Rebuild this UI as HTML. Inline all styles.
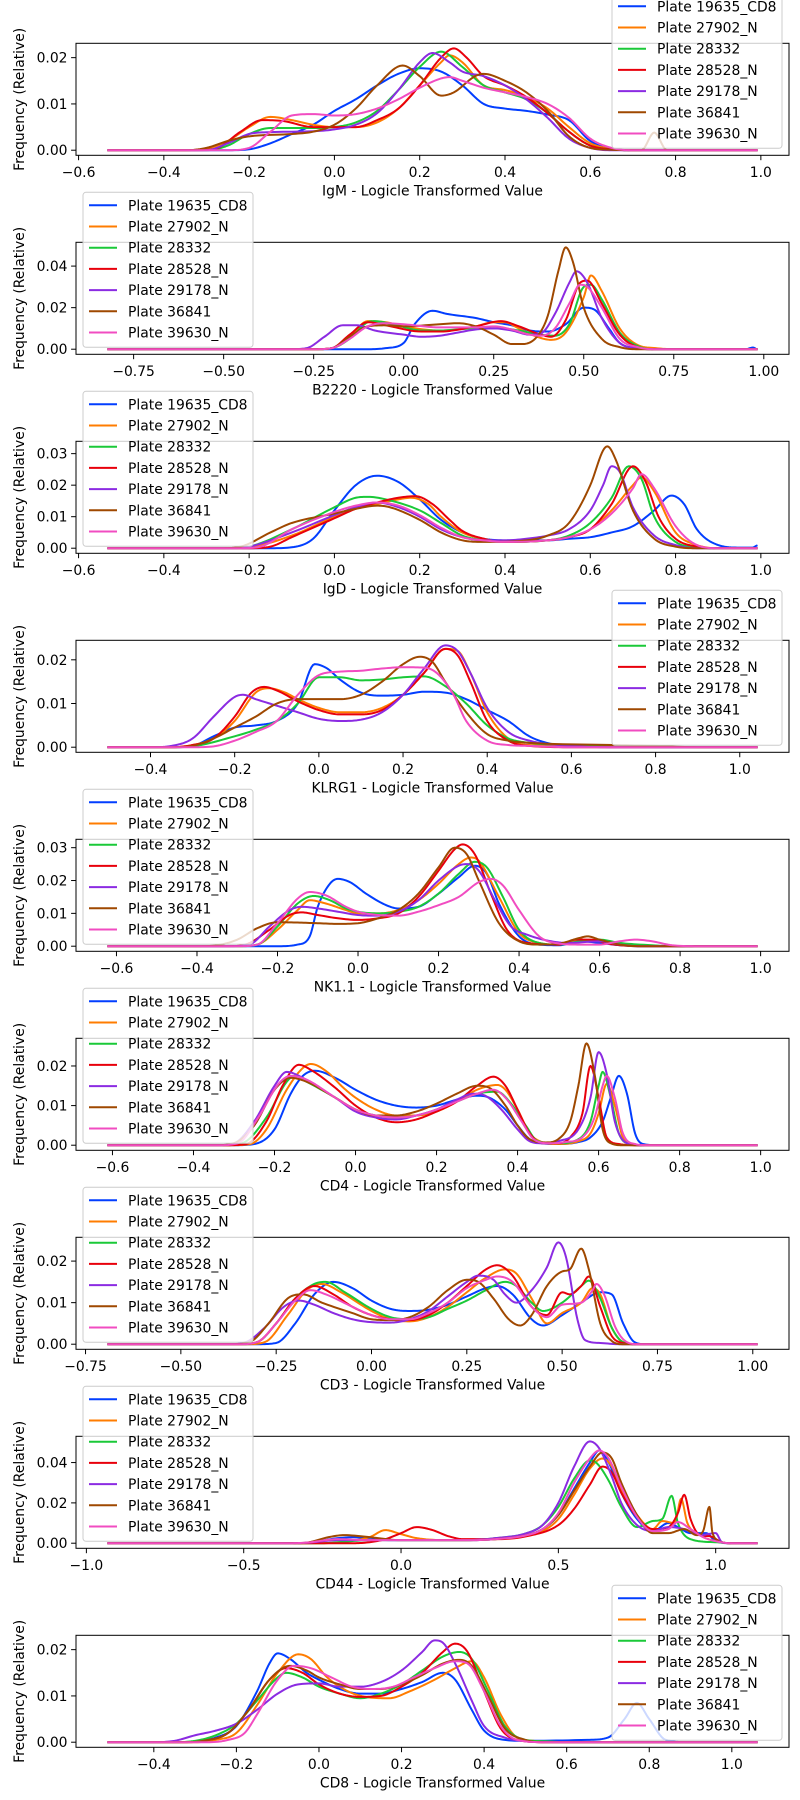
<!DOCTYPE html>
<html><head><meta charset="utf-8">
<style>
html,body{margin:0;padding:0;background:#fff;}
svg{display:block;font-family:"DejaVu Sans","Liberation Sans",sans-serif;}
</style></head>
<body>
<svg id="chart" width="800" height="1800" viewBox="0 0 800 1800" xmlns="http://www.w3.org/2000/svg">
<rect x="0" y="0" width="800" height="1800" fill="#fff"/>
</svg>
<script>
// ---- data (y values in thousandths of relative frequency) ----
const plateNames = ['Plate 19635_CD8','Plate 27902_N','Plate 28332','Plate 28528_N','Plate 29178_N','Plate 36841','Plate 39630_N'];
const markerNames = ['IgM','B2220','IgD','KLRG1','NK1.1','CD4','CD3','CD44','CD8'];
const dataRanges = [[-0.53,0.99],[-0.82,0.98],[-0.53,0.99],[-0.5,1.04],[-0.62,0.99],[-0.61,0.99],[-0.69,1.01],[-0.93,1.13],[-0.51,1.06]];
const xTickSets = [
 ['-0.6','-0.4','-0.2','0.0','0.2','0.4','0.6','0.8','1.0'],
 ['-0.75','-0.50','-0.25','0.00','0.25','0.50','0.75','1.00'],
 ['-0.6','-0.4','-0.2','0.0','0.2','0.4','0.6','0.8','1.0'],
 ['-0.4','-0.2','0.0','0.2','0.4','0.6','0.8','1.0'],
 ['-0.6','-0.4','-0.2','0.0','0.2','0.4','0.6','0.8','1.0'],
 ['-0.6','-0.4','-0.2','0.0','0.2','0.4','0.6','0.8','1.0'],
 ['-0.75','-0.50','-0.25','0.00','0.25','0.50','0.75','1.00'],
 ['-1.0','-0.5','0.0','0.5','1.0'],
 ['-0.4','-0.2','0.0','0.2','0.4','0.6','0.8','1.0']
];
const yTickSets = [
 ['0.00','0.01','0.02'],
 ['0.00','0.02','0.04'],
 ['0.00','0.01','0.02','0.03'],
 ['0.00','0.01','0.02'],
 ['0.00','0.01','0.02','0.03'],
 ['0.00','0.01','0.02'],
 ['0.00','0.01','0.02'],
 ['0.00','0.02','0.04'],
 ['0.00','0.01','0.02']
];
const igmSeries = [
 [[-0.25,0],[-0.2,0.2],[-0.15,1.5],[-0.1,3.5],[-0.05,5.5],[0,8.5],[0.05,11],[0.1,14],[0.15,16.5],[0.2,17.7],[0.25,17],[0.3,14],[0.35,10],[0.4,9],[0.45,8.5],[0.5,7.7],[0.55,6.5],[0.6,2],[0.65,0.3],[0.7,0]],
 [[-0.35,0],[-0.3,0.3],[-0.25,2],[-0.2,5],[-0.15,7.2],[-0.1,6.5],[-0.05,5.5],[0,5],[0.05,5],[0.1,6],[0.15,9],[0.2,14],[0.25,19],[0.27,20.5],[0.3,19],[0.35,14],[0.4,13],[0.45,11.5],[0.5,9],[0.55,5],[0.6,1.5],[0.65,0.3],[0.7,0]],
 [[-0.3,0],[-0.25,1],[-0.2,3.5],[-0.15,4.8],[-0.1,4.8],[-0.05,4.8],[0,5],[0.05,6],[0.1,8.5],[0.15,13],[0.2,18],[0.25,21.3],[0.3,18],[0.35,14],[0.4,12.5],[0.45,11],[0.5,8],[0.55,4],[0.6,1],[0.65,0.2],[0.7,0]],
 [[-0.33,0],[-0.28,0.3],[-0.22,4],[-0.17,6.5],[-0.12,6.3],[-0.05,5],[0.05,5],[0.1,6.5],[0.15,9],[0.2,14],[0.25,20],[0.28,22],[0.31,20],[0.35,16],[0.4,14],[0.45,11.5],[0.5,8],[0.55,4],[0.6,1],[0.65,0.2],[0.7,0]],
 [[-0.3,0],[-0.25,1.5],[-0.2,3.5],[-0.15,3.9],[-0.05,4.1],[0,4.5],[0.05,5.5],[0.1,8],[0.15,13],[0.2,19],[0.23,21],[0.27,19],[0.3,17],[0.35,16],[0.4,14],[0.45,11],[0.5,7],[0.55,2.5],[0.6,0.5],[0.65,0]],
 [[-0.35,0],[-0.3,0.5],[-0.25,2],[-0.2,3],[-0.1,3.5],[-0.05,4],[0,5.5],[0.05,9],[0.1,14],[0.16,18.3],[0.2,16],[0.25,11.8],[0.28,12.5],[0.33,16],[0.35,16.5],[0.4,15],[0.45,12.5],[0.5,8.5],[0.55,3],[0.6,0.5],[0.65,0.1],[0.72,0],[0.75,3.8],[0.78,0]],
 [[-0.25,0],[-0.2,0.5],[-0.15,4],[-0.1,7.5],[-0.05,7.8],[0,7.5],[0.05,7.8],[0.1,9],[0.15,11],[0.2,13.5],[0.25,15.5],[0.27,15.8],[0.3,15],[0.35,13.5],[0.4,12.5],[0.45,11.5],[0.5,10],[0.55,7],[0.6,2.5],[0.65,0.5],[0.7,0]]
];
const b2220Series = [
 [[-0.1,0],[-0.05,0.5],[0,3],[0.03,12],[0.08,18.5],[0.12,17],[0.2,15],[0.25,13],[0.3,11.5],[0.35,9],[0.4,8.5],[0.45,12],[0.5,20],[0.53,19],[0.57,10],[0.6,3],[0.65,0.5],[0.7,0],[0.95,0],[0.97,0.8],[0.98,0]],
 [[-0.25,0],[-0.2,0.5],[-0.15,6],[-0.1,13.5],[-0.05,13],[0,11],[0.1,9],[0.15,9.5],[0.2,11],[0.25,13],[0.28,13],[0.32,10],[0.37,6],[0.41,4.5],[0.45,8],[0.5,25],[0.52,35.5],[0.55,28],[0.6,10],[0.65,2],[0.7,0.5],[0.75,0]],
 [[-0.25,0],[-0.2,0.5],[-0.15,5],[-0.1,13],[-0.08,13.5],[-0.03,12],[0.05,9],[0.1,9],[0.2,10],[0.27,10],[0.32,9],[0.38,7],[0.42,6.5],[0.46,12],[0.5,30],[0.52,31],[0.55,24],[0.6,8],[0.65,1.5],[0.7,0]],
 [[-0.25,0],[-0.2,0.5],[-0.15,7],[-0.1,13],[-0.05,11.5],[0.05,8.5],[0.1,8.5],[0.2,11],[0.27,13.5],[0.32,11],[0.38,7],[0.41,6],[0.45,14],[0.49,32],[0.51,33],[0.55,22],[0.6,7],[0.65,1],[0.7,0]],
 [[-0.32,0],[-0.27,0.5],[-0.22,6],[-0.17,11.5],[-0.13,11.5],[-0.08,9],[0,7],[0.05,6],[0.1,6.5],[0.15,8],[0.2,9.5],[0.25,10],[0.3,9],[0.35,7],[0.38,7.5],[0.42,17],[0.46,32],[0.48,37.5],[0.51,32],[0.55,15],[0.6,3],[0.65,0.5],[0.7,0]],
 [[-0.25,0],[-0.2,0.5],[-0.15,6],[-0.1,11],[-0.05,11.5],[0,11],[0.1,12],[0.15,12.5],[0.2,11],[0.25,7],[0.3,2.5],[0.33,2.5],[0.37,6],[0.4,16],[0.43,38],[0.45,49],[0.47,42],[0.5,20],[0.55,5],[0.6,1],[0.65,0]],
 [[-0.25,0],[-0.2,0.5],[-0.15,5],[-0.1,11],[-0.05,12.5],[0,12],[0.1,10.5],[0.2,10.5],[0.25,11],[0.3,9.5],[0.35,7],[0.38,6.5],[0.42,10],[0.46,22],[0.49,31],[0.51,30],[0.55,20],[0.6,5],[0.65,1],[0.7,0]]
];
const igdSeries = [
 [[-0.15,0],[-0.1,0.3],[-0.05,3],[0,12],[0.05,20],[0.1,23],[0.15,21],[0.2,15.5],[0.25,9],[0.3,5],[0.35,3],[0.4,2.5],[0.5,2.5],[0.55,3],[0.6,3.5],[0.65,5],[0.7,7],[0.75,12],[0.79,16.7],[0.82,14],[0.85,6],[0.9,1],[0.95,0.2],[0.98,0.2],[0.99,0.8]],
 [[-0.25,0],[-0.2,0.3],[-0.1,4],[0,10],[0.05,12.5],[0.1,14],[0.15,15.5],[0.18,16],[0.22,14],[0.25,10],[0.3,5],[0.35,3],[0.4,2],[0.5,2.5],[0.55,3.5],[0.6,6],[0.65,12],[0.7,20],[0.72,22.5],[0.75,18],[0.8,5],[0.85,1],[0.9,0]],
 [[-0.25,0],[-0.2,0.5],[-0.1,6],[0,13],[0.05,16],[0.08,16.3],[0.12,15.5],[0.2,12],[0.25,8],[0.3,4],[0.35,2.5],[0.4,2],[0.5,2.5],[0.55,4],[0.6,8],[0.65,16],[0.69,26],[0.72,22],[0.75,10],[0.8,2],[0.85,0.3],[0.9,0]],
 [[-0.2,0],[-0.15,0.5],[-0.1,3.5],[0,9.5],[0.05,12.5],[0.1,14.5],[0.15,16],[0.19,16.5],[0.23,14],[0.27,9],[0.3,5.5],[0.35,3],[0.4,2],[0.5,2.5],[0.55,3.5],[0.6,6],[0.65,14],[0.7,26],[0.73,21],[0.76,10],[0.8,3],[0.85,0.5],[0.9,0]],
 [[-0.25,0],[-0.2,0.5],[-0.1,5],[0,10.5],[0.05,13],[0.1,14.5],[0.15,13],[0.2,10],[0.25,6],[0.3,3.5],[0.35,2.5],[0.4,2.5],[0.45,3],[0.5,4],[0.55,6],[0.6,12],[0.63,20],[0.65,26],[0.67,24],[0.7,13],[0.75,4],[0.8,1],[0.85,0]],
 [[-0.27,0],[-0.22,0.5],[-0.15,5],[-0.1,8],[0,11],[0.05,12.5],[0.1,13.5],[0.13,13],[0.2,9],[0.25,5],[0.3,2.5],[0.35,2],[0.45,2.5],[0.5,4],[0.55,8],[0.6,20],[0.63,31],[0.64,32.3],[0.66,28],[0.7,12],[0.75,3],[0.8,0.5],[0.85,0]],
 [[-0.23,0],[-0.18,0.3],[-0.1,6],[0,11.5],[0.05,13.5],[0.1,14.5],[0.15,13.5],[0.2,10.5],[0.25,6.5],[0.3,3.5],[0.35,2.5],[0.4,2],[0.5,2.5],[0.55,3.5],[0.6,6],[0.65,11],[0.7,19],[0.72,23.5],[0.75,19],[0.8,7],[0.85,1],[0.9,0]]
];
const klrg1Series = [
 [[-0.35,0],[-0.3,0.3],[-0.25,2.5],[-0.2,4.5],[-0.15,5],[-0.1,6],[-0.05,10],[-0.01,19],[0.02,18],[0.05,15.5],[0.1,12.5],[0.15,11.8],[0.2,12],[0.25,12.7],[0.3,12.5],[0.35,11],[0.4,8.5],[0.45,6],[0.5,2.5],[0.55,0.8],[0.6,0.3],[0.7,0]],
 [[-0.35,0],[-0.3,0.5],[-0.25,2],[-0.2,6],[-0.15,12.5],[-0.12,13.5],[-0.08,12.5],[-0.05,11],[0,9],[0.05,8],[0.1,8],[0.15,9],[0.2,12],[0.25,17],[0.3,22.5],[0.33,22],[0.36,17],[0.4,8],[0.45,2],[0.5,0.5],[0.6,0.3],[0.7,0]],
 [[-0.35,0],[-0.3,0.2],[-0.2,2.5],[-0.15,4],[-0.1,6],[-0.05,10],[0,16],[0.05,16],[0.1,15.3],[0.15,15.5],[0.2,16],[0.25,16.2],[0.3,14],[0.35,10],[0.4,5],[0.45,2],[0.5,1],[0.6,0.5],[0.7,0.3],[0.8,0]],
 [[-0.35,0],[-0.3,0.5],[-0.25,2],[-0.2,7],[-0.16,12.5],[-0.13,13.8],[-0.1,13],[-0.05,10.5],[0,8.5],[0.05,7.5],[0.1,7.5],[0.15,8.5],[0.2,12],[0.25,17],[0.3,22.5],[0.33,21],[0.36,15],[0.4,6],[0.45,1.5],[0.5,0.3],[0.6,0]],
 [[-0.4,0],[-0.35,0.3],[-0.3,2],[-0.25,7],[-0.2,11.5],[-0.18,12],[-0.15,11],[-0.1,9.5],[-0.05,8],[0,6.5],[0.05,6],[0.1,6.3],[0.15,8],[0.2,12],[0.25,18],[0.3,23.3],[0.33,22],[0.36,17],[0.4,9],[0.45,3.5],[0.5,1.5],[0.6,0.3],[0.7,0]],
 [[-0.35,0],[-0.3,0.3],[-0.25,2],[-0.2,4.5],[-0.15,7],[-0.1,10],[-0.05,11],[0.05,11],[0.1,12],[0.15,15],[0.2,19],[0.24,20.7],[0.27,19.5],[0.3,15],[0.35,8],[0.4,3],[0.45,1.5],[0.5,1],[0.7,0.5],[0.8,0.3],[0.9,0]],
 [[-0.3,0],[-0.25,0.2],[-0.2,1.5],[-0.15,3.5],[-0.1,6],[-0.05,12],[0,16.5],[0.05,17.3],[0.1,17.5],[0.15,18],[0.2,18.3],[0.25,18.2],[0.28,17],[0.32,12],[0.35,6],[0.4,1.5],[0.45,0.5],[0.5,0.3],[0.6,0]]
];
const nk11Series = [
 [[-0.2,0],[-0.15,0.5],[-0.12,3],[-0.1,12],[-0.07,19],[-0.05,20.5],[-0.02,19.5],[0.02,16],[0.07,12.5],[0.1,11.5],[0.15,12],[0.2,16],[0.25,21],[0.29,24.5],[0.32,22],[0.35,13],[0.4,3],[0.45,0.5],[0.5,0.3],[0.55,1.5],[0.6,1],[0.65,0.3],[0.7,0]],
 [[-0.3,0],[-0.25,0.5],[-0.2,5],[-0.15,11],[-0.12,14],[-0.08,13],[-0.03,11],[0,10],[0.05,10],[0.1,11],[0.15,14],[0.2,19],[0.25,25],[0.28,27],[0.3,26],[0.35,15],[0.4,4],[0.45,1],[0.5,0.5],[0.55,2],[0.6,1.5],[0.7,0.3],[0.8,0]],
 [[-0.3,0],[-0.25,0.5],[-0.2,6],[-0.15,13],[-0.11,15.3],[-0.07,14],[-0.03,11.5],[0,10.5],[0.05,10],[0.1,10.5],[0.15,12],[0.2,16],[0.25,22],[0.29,25.7],[0.32,24],[0.36,15],[0.4,5],[0.45,1],[0.5,0.5],[0.55,1.5],[0.6,2],[0.65,1],[0.7,0.5],[0.8,0]],
 [[-0.33,0],[-0.28,0.5],[-0.22,5],[-0.17,9.5],[-0.14,10.3],[-0.1,9.5],[-0.05,8.5],[0,8],[0.05,8.5],[0.1,10],[0.15,15],[0.2,23],[0.24,29.5],[0.26,31],[0.29,28],[0.33,16],[0.37,5],[0.42,1],[0.5,0.5],[0.54,2],[0.58,2],[0.62,0.8],[0.7,0]],
 [[-0.32,0],[-0.27,0.5],[-0.22,6],[-0.17,11],[-0.14,12],[-0.1,11.5],[-0.05,10.5],[0,9.5],[0.05,9.3],[0.1,10.5],[0.15,14],[0.2,20],[0.25,24.5],[0.27,25],[0.3,23],[0.34,14],[0.38,6],[0.42,3.5],[0.48,1.5],[0.52,1],[0.6,1.5],[0.65,0.5],[0.7,0]],
 [[-0.4,0],[-0.35,0.3],[-0.3,2],[-0.25,5.5],[-0.2,7.3],[-0.15,7.2],[-0.1,7],[-0.05,6.8],[0,7],[0.05,8.5],[0.1,11],[0.15,16],[0.2,24],[0.24,30],[0.27,28],[0.3,20],[0.35,7],[0.4,1.5],[0.45,0.5],[0.5,0.8],[0.55,2.5],[0.57,3],[0.6,2],[0.65,0.5],[0.7,0]],
 [[-0.3,0],[-0.25,0.5],[-0.2,7],[-0.15,14.5],[-0.12,16.5],[-0.08,15.5],[-0.03,12],[0,10.5],[0.05,9.5],[0.1,9.3],[0.15,10.5],[0.2,12.5],[0.25,15],[0.3,19.5],[0.33,20.5],[0.36,18.5],[0.4,11],[0.45,3],[0.5,0.8],[0.55,0.5],[0.6,0.5],[0.65,1.5],[0.69,2],[0.73,1.5],[0.78,0.3],[0.85,0]]
];
const cd4Series = [
 [[-0.3,0],[-0.25,0.3],[-0.2,4],[-0.16,13],[-0.13,17.5],[-0.1,18.8],[-0.05,17],[0,14],[0.05,11.5],[0.1,10],[0.15,9.5],[0.2,10],[0.25,11.5],[0.3,12.5],[0.33,12],[0.37,9],[0.4,5],[0.43,1.5],[0.46,0.5],[0.5,0.3],[0.55,0.8],[0.58,2],[0.61,6],[0.63,12],[0.65,17.5],[0.67,13],[0.69,3],[0.71,0.3],[0.75,0]],
 [[-0.31,0],[-0.26,0.3],[-0.22,4],[-0.17,14],[-0.13,19.5],[-0.11,20.5],[-0.07,18.5],[-0.03,14.5],[0,12],[0.05,9],[0.1,7.5],[0.15,7.5],[0.2,8.5],[0.25,11],[0.3,14],[0.35,15.2],[0.37,14],[0.4,9],[0.43,3],[0.46,0.8],[0.5,0.3],[0.55,1],[0.58,3],[0.6,8],[0.62,15.5],[0.64,10],[0.66,2],[0.69,0]],
 [[-0.33,0],[-0.28,0.5],[-0.22,7],[-0.17,16],[-0.15,17.5],[-0.12,16],[-0.05,12],[0,9],[0.05,7.5],[0.1,7],[0.15,7.5],[0.2,9],[0.25,11],[0.3,13],[0.35,13.5],[0.38,11],[0.42,5],[0.45,1],[0.5,0.5],[0.55,1.5],[0.58,6],[0.6,15],[0.61,18.5],[0.63,12],[0.65,3],[0.68,0.3],[0.72,0]],
 [[-0.32,0],[-0.27,0.3],[-0.22,6],[-0.18,15],[-0.14,20.3],[-0.11,19],[-0.05,14.5],[0,10],[0.05,7],[0.1,5.8],[0.15,6.5],[0.2,8.5],[0.25,11],[0.3,15],[0.34,17.3],[0.37,15],[0.4,9],[0.43,3],[0.46,0.5],[0.5,0.5],[0.53,2],[0.56,8],[0.58,20],[0.6,12],[0.62,2],[0.65,0.3],[0.7,0]],
 [[-0.35,0],[-0.3,0.5],[-0.25,6],[-0.2,15],[-0.17,18.5],[-0.13,17],[-0.05,12],[0,8.5],[0.05,7],[0.1,6.5],[0.15,7.5],[0.2,9],[0.25,11.5],[0.29,13],[0.32,12.5],[0.36,9],[0.4,4],[0.43,1],[0.46,0.5],[0.5,1],[0.55,4],[0.58,12],[0.6,23.5],[0.62,18],[0.64,6],[0.67,0.5],[0.7,0]],
 [[-0.35,0],[-0.3,0.5],[-0.25,5],[-0.2,14],[-0.16,17],[-0.12,16],[-0.05,12],[0,9],[0.05,7.5],[0.1,7.5],[0.15,8.5],[0.2,10.5],[0.25,13],[0.3,15],[0.33,14.5],[0.37,10],[0.4,5],[0.43,1.5],[0.47,0.7],[0.5,1.5],[0.53,6],[0.55,15],[0.57,25.7],[0.59,18],[0.61,4],[0.63,0.5],[0.66,0]],
 [[-0.34,0],[-0.29,0.5],[-0.24,7],[-0.19,15.5],[-0.16,17.5],[-0.12,16.5],[-0.05,12],[0,9],[0.05,7.5],[0.1,7],[0.15,7.5],[0.2,9],[0.25,11],[0.3,13],[0.34,14],[0.37,12],[0.41,6],[0.44,1.5],[0.48,0.5],[0.52,0.8],[0.56,2],[0.59,7],[0.61,15],[0.62,17.5],[0.64,12],[0.66,3],[0.69,0.3],[0.72,0]]
];
const cd3Series = [
 [[-0.3,0],[-0.25,0.3],[-0.2,5],[-0.15,12],[-0.1,15],[-0.05,13.5],[0,10.5],[0.05,8.5],[0.1,8],[0.15,8.3],[0.2,9.5],[0.25,11.5],[0.3,13.5],[0.33,14],[0.37,12],[0.42,6],[0.45,4.5],[0.5,7],[0.55,10],[0.6,12.5],[0.63,12],[0.66,5],[0.69,0.5],[0.72,0]],
 [[-0.33,0],[-0.28,0.5],[-0.22,7],[-0.17,13],[-0.13,14.5],[-0.08,12.5],[0,8],[0.05,6],[0.1,5.5],[0.15,6.5],[0.2,9],[0.25,12.5],[0.3,16],[0.35,18],[0.38,17],[0.42,11],[0.46,5],[0.5,7.5],[0.55,10],[0.58,13.5],[0.6,12],[0.63,4],[0.66,0.5],[0.7,0]],
 [[-0.35,0],[-0.3,0.5],[-0.25,5],[-0.2,11],[-0.15,14.5],[-0.12,15],[-0.07,12.5],[0,8.5],[0.05,6.5],[0.1,6],[0.15,6.5],[0.2,8.5],[0.25,10.5],[0.3,13],[0.35,15],[0.38,14],[0.42,10],[0.45,8],[0.5,10],[0.55,14],[0.57,15.3],[0.6,11],[0.63,4],[0.66,0.5],[0.7,0]],
 [[-0.35,0],[-0.3,0.5],[-0.25,5],[-0.2,11],[-0.15,14],[-0.1,12],[-0.05,9],[0,7],[0.05,6],[0.1,5.8],[0.15,7],[0.2,10],[0.25,14],[0.3,18],[0.33,19],[0.37,16.5],[0.42,9],[0.46,7],[0.5,12.5],[0.52,12],[0.55,14],[0.57,16.3],[0.6,9],[0.63,2],[0.66,0.3],[0.7,0]],
 [[-0.38,0],[-0.33,0.5],[-0.28,4],[-0.23,9],[-0.19,10.5],[-0.15,9.5],[-0.1,7.5],[-0.05,6],[0,5.3],[0.05,5.2],[0.1,6],[0.15,8],[0.2,11.5],[0.25,15],[0.28,16.5],[0.32,15.5],[0.35,12],[0.38,10],[0.42,13],[0.46,18.5],[0.49,24.5],[0.51,21],[0.54,6],[0.56,1],[0.6,0.3],[0.65,0]],
 [[-0.37,0],[-0.32,0.5],[-0.27,5],[-0.22,11],[-0.18,12],[-0.13,10],[-0.05,7.5],[0,6],[0.05,5.8],[0.1,6.5],[0.15,9],[0.2,13],[0.25,15.5],[0.28,15],[0.32,11],[0.36,6],[0.39,4.5],[0.42,7],[0.46,14],[0.5,17.5],[0.52,18],[0.55,23],[0.57,18],[0.6,5],[0.63,0.8],[0.66,0]],
 [[-0.35,0],[-0.3,0.5],[-0.25,5],[-0.2,10.5],[-0.16,13],[-0.12,12],[-0.05,9],[0,7],[0.05,6],[0.1,6],[0.15,7.5],[0.2,10],[0.25,13.5],[0.3,15.5],[0.33,16.3],[0.37,15],[0.42,9],[0.46,6.5],[0.5,9.5],[0.55,10],[0.58,13],[0.59,14.5],[0.61,12],[0.64,4],[0.67,0.5],[0.7,0]]
];
const cd44Series = [
 [[-0.35,0],[-0.3,0.2],[-0.2,2.5],[-0.15,3],[-0.1,2],[0,1.5],[0.2,1.5],[0.3,2],[0.4,4],[0.45,7],[0.5,14],[0.55,27],[0.6,40],[0.63,46],[0.66,40],[0.7,25],[0.75,12],[0.8,6],[0.85,10],[0.88,8],[0.92,5],[0.97,5],[1.0,1],[1.05,0]],
 [[-0.25,0],[-0.2,0.5],[-0.1,3],[-0.05,6.5],[0,4.5],[0.05,2.5],[0.15,1.5],[0.3,2],[0.4,4],[0.45,6],[0.5,12],[0.55,24],[0.6,37],[0.64,42],[0.67,38],[0.7,27],[0.75,14],[0.8,7],[0.83,11],[0.87,10],[0.89,22],[0.91,10],[0.95,4],[1.0,1],[1.05,0]],
 [[-0.25,0],[-0.2,0.5],[-0.1,1.5],[0,1.5],[0.2,1.5],[0.3,2.5],[0.4,5],[0.45,9],[0.5,18],[0.55,32],[0.6,41],[0.62,40],[0.66,31],[0.7,18],[0.75,8],[0.8,11],[0.83,12],[0.86,23.5],[0.88,10],[0.92,2],[1.0,0.5],[1.05,0]],
 [[-0.15,0],[-0.1,0.5],[-0.05,2],[0,5],[0.05,8],[0.1,6.5],[0.15,3.5],[0.2,2],[0.3,2],[0.4,3.5],[0.5,9],[0.55,17],[0.6,29],[0.64,38],[0.67,35],[0.7,25],[0.75,13],[0.8,7],[0.85,8],[0.88,15],[0.9,24],[0.92,12],[0.95,4],[0.98,3.5],[1.02,0.5],[1.05,0]],
 [[-0.35,0],[-0.3,0.2],[-0.2,1.5],[-0.1,1.5],[0,1.5],[0.2,1.5],[0.3,2.5],[0.4,5],[0.45,9],[0.5,20],[0.55,38],[0.6,50.5],[0.63,47],[0.67,33],[0.7,20],[0.75,9],[0.8,6],[0.85,8],[0.9,7],[0.95,4],[1.0,5],[1.02,0.5],[1.05,0]],
 [[-0.35,0],[-0.3,0.3],[-0.23,3],[-0.18,4],[-0.1,3],[0,1.5],[0.2,1.5],[0.3,2],[0.4,4],[0.45,7],[0.5,14],[0.55,26],[0.6,38],[0.64,45],[0.67,42],[0.7,30],[0.75,14],[0.8,5],[0.85,5],[0.9,7],[0.94,4],[0.96,6],[0.98,18],[0.99,5],[1.02,0.5],[1.05,0]],
 [[-0.35,0],[-0.3,0.3],[-0.2,2],[-0.1,1.5],[0,1.5],[0.2,1.5],[0.3,2],[0.4,4],[0.45,7],[0.5,15],[0.55,30],[0.6,42],[0.63,46],[0.66,42],[0.7,28],[0.75,13],[0.8,6],[0.85,7],[0.88,10.5],[0.92,7],[0.96,3],[1.0,1],[1.05,0]]
];
const cd8Series = [
 [[-0.35,0],[-0.3,0.2],[-0.25,1],[-0.2,3.5],[-0.15,11],[-0.12,17],[-0.1,19.2],[-0.07,18],[-0.03,15],[0,13.5],[0.05,11.5],[0.1,10.5],[0.15,10.5],[0.2,11.5],[0.25,13],[0.3,15],[0.33,13.5],[0.37,7],[0.4,2.5],[0.45,0.5],[0.5,0.3],[0.65,0.5],[0.7,1],[0.74,5],[0.77,8.5],[0.8,5],[0.84,0.5],[0.9,0]],
 [[-0.3,0],[-0.25,0.5],[-0.2,2],[-0.15,8],[-0.1,15],[-0.05,19],[-0.02,18],[0.02,14],[0.07,11],[0.12,9.7],[0.17,9.5],[0.22,11],[0.28,13.5],[0.33,16],[0.37,17.5],[0.4,14],[0.44,6],[0.48,1],[0.52,0.3],[0.6,0]],
 [[-0.35,0],[-0.3,0.3],[-0.25,1.5],[-0.2,4],[-0.15,9],[-0.1,14],[-0.08,15],[-0.04,14],[0,12],[0.05,10.5],[0.1,9.5],[0.15,10.5],[0.2,12.5],[0.25,15.5],[0.3,18.5],[0.34,19.5],[0.37,18],[0.41,11],[0.45,3.5],[0.5,0.5],[0.55,0.2],[0.6,0]],
 [[-0.33,0],[-0.28,0.3],[-0.22,2],[-0.17,7],[-0.12,13.5],[-0.08,16],[-0.04,15],[0,12.5],[0.05,10.5],[0.1,9.8],[0.15,10],[0.2,12],[0.25,15],[0.3,19.5],[0.33,21.3],[0.36,19.5],[0.4,11],[0.44,3],[0.48,0.5],[0.55,0]],
 [[-0.4,0],[-0.35,0.3],[-0.3,1.5],[-0.25,2.5],[-0.2,4],[-0.15,7],[-0.1,10.5],[-0.05,12.5],[0,12.7],[0.05,12],[0.1,12],[0.15,13],[0.2,15.5],[0.25,19.5],[0.28,22],[0.3,21.5],[0.33,17],[0.37,9],[0.4,3.5],[0.45,1],[0.5,0.2],[0.55,0]],
 [[-0.33,0],[-0.28,0.3],[-0.22,2],[-0.17,7],[-0.12,13.5],[-0.07,16.5],[-0.03,15.5],[0,14],[0.05,12.5],[0.1,11.5],[0.15,11.5],[0.2,12.5],[0.25,14.5],[0.3,17],[0.34,17.8],[0.37,16.5],[0.41,10],[0.45,3],[0.5,0.5],[0.55,0]],
 [[-0.27,0],[-0.22,0.5],[-0.18,2],[-0.15,6],[-0.1,13.5],[-0.06,16.5],[-0.02,16],[0.03,14],[0.08,12],[0.13,11.5],[0.18,12],[0.23,14],[0.28,16],[0.33,17.5],[0.36,17],[0.4,11],[0.44,3.5],[0.48,0.5],[0.55,0]]
];
const panelSeries = [igmSeries,b2220Series,igdSeries,klrg1Series,nk11Series,cd4Series,cd3Series,cd44Series,cd8Series];

// ---- styling / layout ----
const colors = ['#023eff','#ff7c00','#1ac938','#e8000b','#8b2be2','#9f4800','#f14cc1'];
const legendSide = ['right','left','left','right','left','left','left','left','right'];
const AX_L = 76, AX_R = 789, AX_H = 112, TOP0 = 43.3, PITCH = 199;
const NS = 'http://www.w3.org/2000/svg';
const svg = document.getElementById('chart');

function mk(tag, attrs, parent){
  const e = document.createElementNS(NS, tag);
  for (const k in attrs) e.setAttribute(k, attrs[k]);
  (parent || svg).appendChild(e);
  return e;
}
function slug(s){ return s.toLowerCase().replace(/[^a-z0-9]+/g,'-').replace(/^-|-$/g,''); }
function fmt(s){ return s.replace('-', '\u2212'); }

function monoSample(pts){
  const n = pts.length, xs = pts.map(p=>p[0]), ys = pts.map(p=>p[1]);
  if (n < 2) return pts.slice();
  const d = [], m = new Array(n);
  for (let i=0;i<n-1;i++) d.push((ys[i+1]-ys[i])/(xs[i+1]-xs[i]));
  m[0]=d[0]; m[n-1]=d[n-2];
  for (let i=1;i<n-1;i++) m[i] = (d[i-1]*d[i] <= 0) ? 0 : (d[i-1]+d[i])/2;
  for (let i=0;i<n-1;i++){
    if (d[i]===0){ m[i]=0; m[i+1]=0; continue; }
    const a=m[i]/d[i], b=m[i+1]/d[i], s=a*a+b*b;
    if (s>9){ const t=3/Math.sqrt(s); m[i]=t*a*d[i]; m[i+1]=t*b*d[i]; }
  }
  const out=[];
  for (let i=0;i<n-1;i++){
    const h = xs[i+1]-xs[i];
    const steps = 10;
    for (let k=0;k<steps;k++){
      const t=k/steps, t2=t*t, t3=t2*t;
      const y = (2*t3-3*t2+1)*ys[i] + (t3-2*t2+t)*h*m[i] + (-2*t3+3*t2)*ys[i+1] + (t3-t2)*h*m[i+1];
      out.push([xs[i]+t*h, Math.max(0,y)]);
    }
  }
  out.push([xs[n-1], ys[n-1]]);
  return out;
}

for (let p=0; p<panelSeries.length; p++){
  const series = panelSeries[p];
  const [dx0, dx1] = dataRanges[p];
  const xr = dx1-dx0;
  const xmin = dx0-0.05*xr, xmax = dx1+0.05*xr;
  let ymaxData = 0;
  series.forEach(s=>s.forEach(pt=>{ if (pt[1]>ymaxData) ymaxData=pt[1]; }));
  ymaxData /= 1000;
  const ymin = -0.05*ymaxData, ymax = 1.05*ymaxData;
  const top = TOP0 + PITCH*p, bot = top + AX_H;
  const X = v => AX_L + (v-xmin)/(xmax-xmin)*(AX_R-AX_L);
  const Y = v => bot - (v-ymin)/(ymax-ymin)*AX_H;
  const key = slug(markerNames[p]);

  const g = mk('g', {});
  
  

  const cp = mk('clipPath', {id:'clip'+p}, g);
  mk('rect', {x:AX_L, y:top, width:AX_R-AX_L, height:AX_H}, cp);

  const bg = mk('rect', {x:AX_L, y:top, width:AX_R-AX_L, height:AX_H, fill:'#fff'}, g);
  
  

  const lines = mk('g', {'clip-path':'url(#clip'+p+')'}, g);
  series.forEach((s, si)=>{
    let pts = s.map(pt=>[pt[0], pt[1]/1000]);
    if (pts[0][0] > dx0) pts.unshift([dx0, 0]);
    if (pts[pts.length-1][0] < dx1) pts.push([dx1, 0]);
    const dense = monoSample(pts);
    const dstr = dense.map((q,i)=>(i?'L':'M')+X(q[0]).toFixed(2)+' '+Y(q[1]).toFixed(2)).join('');
    const path = mk('path', {d:dstr, fill:'none', stroke:colors[si], 'stroke-width':2, 'stroke-linejoin':'round', 'stroke-linecap':'square'}, lines);
    
    
  });

  const frame = mk('rect', {x:AX_L, y:top, width:AX_R-AX_L, height:AX_H, fill:'none', stroke:'#000', 'stroke-width':1}, g);
  
  

  xTickSets[p].forEach(t=>{
    const v = parseFloat(t), x = X(v);
    mk('line', {x1:x, y1:bot, x2:x, y2:bot+4.9, stroke:'#000', 'stroke-width':1}, g);
    const tx = mk('text', {x:x, y:bot+21.5, 'font-size':'13.9px', 'text-anchor':'middle', fill:'#000'}, g);
    tx.textContent = fmt(t);
    
    
  });
  yTickSets[p].forEach(t=>{
    const v = parseFloat(t), y = Y(v);
    mk('line', {x1:AX_L-4.9, y1:y, x2:AX_L, y2:y, stroke:'#000', 'stroke-width':1}, g);
    const tx = mk('text', {x:AX_L-8.5, y:y+5, 'font-size':'13.9px', 'text-anchor':'end', fill:'#000'}, g);
    tx.textContent = t;
    
    
  });

  const xl = mk('text', {x:(AX_L+AX_R)/2, y:bot+40, 'font-size':'13.9px', 'text-anchor':'middle', fill:'#000'}, g);
  xl.textContent = markerNames[p] + ' - Logicle Transformed Value';
  
  

  const cy = (top+bot)/2;
  const yl = mk('text', {x:0, y:0, 'font-size':'13.9px', 'text-anchor':'middle', fill:'#000', transform:'translate(24,'+cy+') rotate(-90)'}, g);
  yl.textContent = 'Frequency (Relative)';
  
  

  // legend
  const LW = 170, LH = 155;
  const lx = legendSide[p]==='right' ? AX_R-7-LW : AX_L+7;
  const lbot = bot - 7, ltop = lbot - LH;
  const lg = mk('g', {}, g);
  
  
  mk('rect', {x:lx, y:ltop, width:LW, height:LH, rx:3, fill:'#fff', 'fill-opacity':0.8, stroke:'#cccccc', 'stroke-width':1}, lg);
  plateNames.forEach((name, i)=>{
    const ey = ltop + 13 + 21.2*i;
    const entry = mk('g', {}, lg);
    
    
    mk('line', {x1:lx+6, y1:ey, x2:lx+34, y2:ey, stroke:colors[i], 'stroke-width':2}, entry);
    const tx = mk('text', {x:lx+45, y:ey+5, 'font-size':'13.9px', fill:'#000'}, entry);
    tx.textContent = name;
  });
}
</script>
</body></html>
